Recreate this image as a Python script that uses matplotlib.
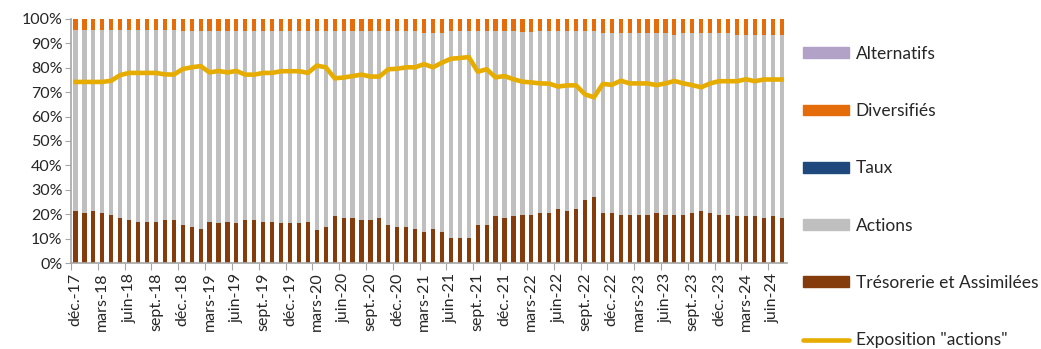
import matplotlib
matplotlib.use('Agg')
import matplotlib.pyplot as plt
import numpy as np
import pandas as pd
from matplotlib.patches import Patch
from matplotlib.lines import Line2D

plt.rcParams['font.family'] = ['Lato', 'DejaVu Sans']

# mois de fin déc. 2017 à juil. 2024
dates = pd.date_range('2017-12-01', periods=80, freq='MS')
mois_fr = {3: 'mars', 6: 'juin', 9: 'sept.', 12: 'déc.'}

tresorerie = [21.5, 20.5, 21.5, 20.5, 19.8, 18.4, 17.6, 16.9, 16.9, 16.9, 17.6, 17.6, 15.6, 14.8, 13.9, 16.9, 16.2, 16.9, 16.2, 17.6,
              17.6, 16.9, 16.9, 16.2, 16.2, 16.2, 16.9, 13.4, 14.8, 19.1, 18.4, 18.4, 17.6, 17.6, 18.4, 15.6, 14.8, 14.8, 13.9, 12.7,
              13.9, 12.7, 10.4, 10.4, 10.4, 15.6, 15.6, 19.1, 18.4, 19.1, 19.8, 19.8, 20.5, 20.5, 22.0, 21.3, 22.0, 25.7, 27.0, 20.5,
              20.5, 19.8, 19.8, 19.8, 19.8, 20.5, 19.8, 19.8, 19.8, 20.5, 21.3, 20.5, 19.8, 19.8, 19.1, 19.1, 19.1, 18.4, 19.1, 18.4]

diversifies = [4.4] * 12 + [5.0] * 27 + [5.7] * 3 + [5.0] * 8 + [5.5] * 2 + [5.0] * 7 + [5.7] * 8 + [6.6] + [5.7] * 6 + [6.6] * 6
taux = [0.0] * 80
alternatifs = [0.0] * 80

exposition = [74.2, 74.2, 74.2, 74.2, 74.7, 77.0, 77.9, 77.9, 77.9, 77.9, 77.3, 77.2, 79.5, 80.2, 80.7, 78.1, 78.7, 78.1, 78.7, 77.2,
              77.2, 77.9, 77.9, 78.6, 78.6, 78.6, 77.9, 80.9, 80.2, 75.7, 76.0, 76.6, 77.2, 76.4, 76.4, 79.4, 79.6, 80.2, 80.2, 81.5,
              80.2, 82.1, 83.7, 84.0, 84.4, 78.4, 79.4, 76.1, 76.6, 75.3, 74.3, 74.0, 73.6, 73.5, 72.3, 72.8, 72.8, 69.1, 67.9, 73.4,
              73.0, 74.7, 73.6, 73.6, 73.6, 72.9, 73.6, 74.6, 73.6, 72.9, 72.0, 73.6, 74.5, 74.5, 74.5, 75.3, 74.5, 75.2, 75.2, 75.2]

# répartition en 100 % : les actions complètent le total
tres = np.array(tresorerie)
div = np.array(diversifies)
tx = np.array(taux)
alt = np.array(alternatifs)
actions = 100 - tres - div - tx - alt

c_tres = '#843C0C'
c_act = '#BFBFBF'
c_taux = '#1F497D'
c_div = '#E46C0A'
c_alt = '#B3A2C7'
c_expo = '#E6AC00'

fig = plt.figure(figsize=(10.41, 3.49), dpi=100)
ax = fig.add_axes([0.0682, 0.2464, 0.6878, 0.6992])

x = np.arange(len(dates))
w = 0.47
bas = np.zeros(len(x))
for vals, col in [(tres, c_tres), (actions, c_act), (tx, c_taux), (div, c_div), (alt, c_alt)]:
    ax.bar(x, vals, w, bottom=bas, color=col, linewidth=0, zorder=2)
    bas = bas + vals

ax.plot(x, exposition, color=c_expo, linewidth=3.3, solid_joinstyle='round', zorder=3)

ax.set_xlim(-0.5, 79.6)
ax.set_ylim(0, 100)
ax.set_yticks(range(0, 101, 10))
ax.set_yticklabels([f'{v}%' for v in range(0, 101, 10)])

# graduations entre les catégories, étiquettes sur les barres
idx = list(range(0, 80, 3))
ax.set_xticks([i - 0.5 for i in idx])
ax.set_xticklabels([])
ax.set_xticks(idx, minor=True)
ax.set_xticklabels([f"{mois_fr[dates[i].month]}-{dates[i].strftime('%y')}" for i in idx],
                   minor=True, rotation=90)
ax.tick_params(axis='x', which='major', length=5, color='#A6A6A6', direction='out')
ax.tick_params(axis='x', which='minor', length=0, pad=7, labelsize=11.5, labelcolor='#262626')
ax.tick_params(axis='y', length=4, color='#A6A6A6', labelsize=11.5, labelcolor='#262626', pad=2)

for s in ['top', 'right']:
    ax.spines[s].set_visible(False)
for s in ['left', 'bottom']:
    ax.spines[s].set_color('#A6A6A6')
    ax.spines[s].set_linewidth(1.2)

handles = [Patch(color=c_alt), Patch(color=c_div), Patch(color=c_taux), Patch(color=c_act), Patch(color=c_tres),
           Line2D([], [], color=c_expo, linewidth=3.3, solid_capstyle='round')]
labels = ['Alternatifs', 'Diversifiés', 'Taux', 'Actions', 'Trésorerie et Assimilées', 'Exposition "actions"']
fig.legend(handles, labels, loc='upper left', bbox_to_anchor=(0.771, 0.869), frameon=False,
           fontsize=12.5, handlelength=2.7, handleheight=0.58, handletextpad=0.35,
           labelspacing=2.38, borderpad=0, borderaxespad=0, labelcolor='#262626')

fig.savefig('out.png', dpi=100)
